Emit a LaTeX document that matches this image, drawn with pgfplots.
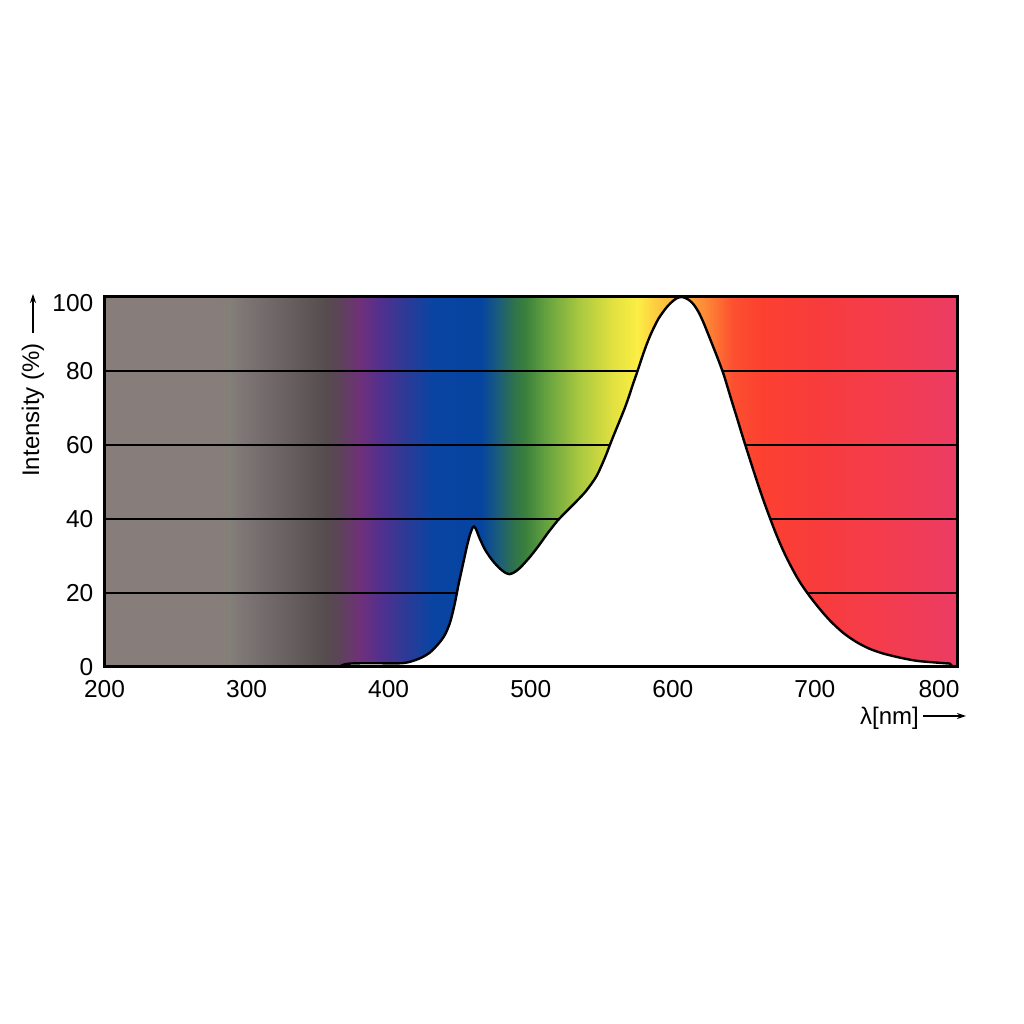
\documentclass[border=0pt]{standalone}
\usepackage{pgfplots}
\pgfplotsset{compat=1.18}
\usepackage{pgfplotstable}
\usepackage{fontspec}
\setmainfont{Liberation Sans}
\usetikzlibrary{arrows.meta}

\definecolor{s00}{RGB}{135,125,122}
\definecolor{s01}{RGB}{135,125,122}
\definecolor{s02}{RGB}{131,127,121}
\definecolor{s03}{RGB}{127,119,118}
\definecolor{s04}{RGB}{107,99,99}
\definecolor{s05}{RGB}{85,77,78}
\definecolor{s06}{RGB}{92,68,88}
\definecolor{s07}{RGB}{112,48,122}
\definecolor{s08}{RGB}{80,48,143}
\definecolor{s09}{RGB}{45,58,150}
\definecolor{s10}{RGB}{10,68,162}
\definecolor{s11}{RGB}{5,68,160}
\definecolor{s12}{RGB}{29,94,120}
\definecolor{s13}{RGB}{46,112,80}
\definecolor{s14}{RGB}{58,128,60}
\definecolor{s15}{RGB}{100,160,64}
\definecolor{s16}{RGB}{168,200,64}
\definecolor{s17}{RGB}{224,224,64}
\definecolor{s18}{RGB}{252,238,69}
\definecolor{s19}{RGB}{252,200,64}
\definecolor{s20}{RGB}{252,160,58}
\definecolor{s21}{RGB}{253,122,53}
\definecolor{s22}{RGB}{252,80,48}
\definecolor{s23}{RGB}{252,64,48}
\definecolor{s24}{RGB}{248,60,60}
\definecolor{s25}{RGB}{244,60,76}
\definecolor{s26}{RGB}{236,60,100}

% positions: 25bp + (nm-200)/12 bp
\pgfdeclarehorizontalshading{spectrum}{100bp}{%
color(0bp)=(s00); color(25bp)=(s00); color(31.67bp)=(s01); color(32.33bp)=(s02);
color(33bp)=(s03); color(35.42bp)=(s04); color(37.92bp)=(s05); color(38.75bp)=(s06);
color(40bp)=(s07); color(41.25bp)=(s08); color(42.67bp)=(s09); color(44.17bp)=(s10);
color(47.08bp)=(s11); color(48.17bp)=(s12); color(48.92bp)=(s13); color(49.67bp)=(s14);
color(50.83bp)=(s15); color(52.83bp)=(s16); color(54.75bp)=(s17); color(56.25bp)=(s18);
color(57.5bp)=(s19); color(59.5bp)=(s20); color(60.67bp)=(s21); color(61.83bp)=(s22);
color(63.58bp)=(s23); color(66.67bp)=(s24); color(70.42bp)=(s25); color(75bp)=(s26);
color(100bp)=(s26)}

\pgfplotstableread{
x y
365 0
368 0.6
372 0.9
380 1.0
395 1.0
408 1.0
414 1.3
419 1.9
424 2.7
429 3.9
433 5.4
437 7.2
440 9
443 11.8
445 14.6
447 18
449 22
451 25.5
453 29
455 32.5
457 35.5
459 37.6
460 38
461.5 37.2
464 34.8
468 31.6
473 28.8
478 26.7
482 25.5
485 25.1
488 25.5
491 26.3
494 27.4
500 30.0
506 33.0
512 36.2
519 39.6
526 42.4
532 44.7
539 47.6
546 51.4
550 54.6
553 57.3
556 60.3
559 63.2
562 66
566 69.8
569 73
572 76.5
575 79.8
578 83.3
581 86.6
584 89.5
587 92
590 94.2
594 96.4
597 97.8
600 98.9
603 99.7
606 100
609 99.7
612 99.0
615 97.8
618 96.0
621 93.6
624 90.8
627 87.9
630 85.0
633 82.0
636 78.8
639 75.0
642 71.2
645 67.5
648 63.7
651 60.0
654 56.4
657 52.8
660 49.3
663 45.9
666 42.7
669 39.6
672 36.6
675 33.8
678 31.2
681 28.8
684 26.6
687 24.5
690 22.6
693 20.9
696 19.3
700 17.3
706 14.5
712 12.0
720 9.2
729 6.8
738 5.0
747.5 3.7
759 2.6
771 1.7
782 1.3
792 1.0
795 0.9
796.5 0.3
797 0
}\curve

\begin{document}
\begin{tikzpicture}
\fill[white] (0,0) rectangle (1024pt,1024pt);
\path[use as bounding box] (0,0) rectangle (1024pt,1024pt);
\begin{axis}[
  at={(104.5pt,357pt)}, anchor=south west,
  width=852.5pt, height=370pt, scale only axis,
  xmin=200, xmax=800, ymin=0, ymax=100,
  axis on top,
  axis line style={line width=3pt, line cap=rect},
  major tick length=0pt,
  xtick={200,300,400,500,600,700},
  extra x ticks={800},
  extra x tick style={xticklabel style={xshift=-18pt}},
  ytick={0,20,40,60,80},
  extra y ticks={100},
  extra y tick style={yticklabel style={yshift=-6pt}},
  ticklabel style={font=\fontsize{24.5}{28}\selectfont},
  /pgf/number format/assume math mode=true,
  xticklabel style={anchor=north, inner sep=0pt, yshift=-13pt},
  yticklabel style={anchor=east, inner sep=0pt, xshift=-11pt},
]
\shade[shading=spectrum] (axis cs:200,0) rectangle (axis cs:800,100);
\draw[line width=1.4pt] (axis cs:200,20) -- (axis cs:800,20);
\draw[line width=1.4pt] (axis cs:200,40) -- (axis cs:800,40);
\draw[line width=1.4pt] (axis cs:200,60) -- (axis cs:800,60);
\draw[line width=1.4pt] (axis cs:200,80) -- (axis cs:800,80);
\addplot[fill=white, draw=none, smooth, tension=0.5] table[x=x,y=y]{\curve} \closedcycle;
\addplot[black, line width=2.4pt, line join=round, smooth, tension=0.5] table[x=x,y=y]{\curve};
\end{axis}
% y axis label with arrow
\node[rotate=90, anchor=center, inner sep=0pt, font=\fontsize{24}{28}\selectfont] at (33pt,614pt) {Intensity (\%)};
\draw[line width=1.4pt, -{Stealth[length=9pt,width=6pt]}] (33pt,691pt) -- (33pt,730pt);
% x axis label with arrow
\node[anchor=west, inner sep=0pt, font=\fontsize{24}{28}\selectfont] at (860pt,306pt) {λ[nm]};
\draw[line width=1.4pt, -{Stealth[length=9pt,width=6pt]}] (923pt,308pt) -- (966pt,308pt);
\end{tikzpicture}
\end{document}
